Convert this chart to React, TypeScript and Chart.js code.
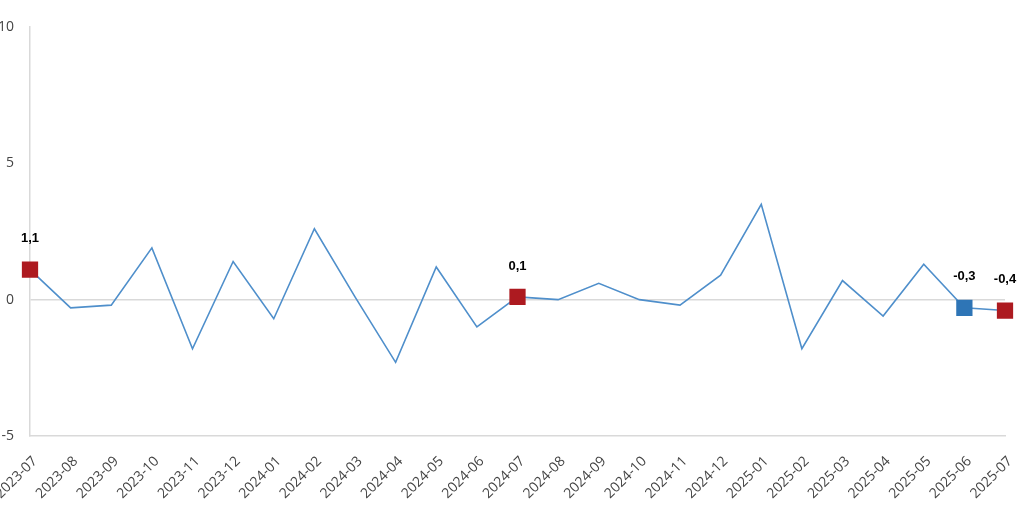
import React, { useEffect, useRef } from "react";
import { Chart, registerables } from "chart.js";

Chart.register(...registerables);

const categories: string[] = [
  "2023-07", "2023-08", "2023-09", "2023-10", "2023-11", "2023-12",
  "2024-01", "2024-02", "2024-03", "2024-04", "2024-05", "2024-06",
  "2024-07", "2024-08", "2024-09", "2024-10", "2024-11", "2024-12",
  "2025-01", "2025-02", "2025-03", "2025-04", "2025-05", "2025-06", "2025-07",
];

const values: number[] = [
  1.1, -0.3, -0.2, 1.9, -1.8, 1.4,
  -0.7, 2.6, 0.1, -2.3, 1.2, -1.0,
  0.1, 0.0, 0.6, 0.0, -0.2, 0.9,
  3.5, -1.8, 0.7, -0.6, 1.3, -0.3, -0.4,
];

// highlighted points and their marker colours
const highlightIndex: number[] = [0, 12, 23, 24];
const highlightColor: string[] = ["#ad1a20", "#ad1a20", "#2e75b6", "#ad1a20"];

const yTicks: number[] = [-5, 0, 5, 10];

const LINE_COLOR = "#4f8fcb";
const TEXT_COLOR = "#444444";
const AXIS_FONT = "'Open Sans', 'Noto Sans', sans-serif";

const fmt = (v: number) => v.toFixed(1).replace(".", ",");

export default function App() {
  const ref = useRef<HTMLCanvasElement | null>(null);

  useEffect(() => {
    if (!ref.current) return;
    const pointRadius = values.map((_, i) => (highlightIndex.includes(i) ? 11.5 : 0));
    const pointColor = values.map((_, i) => {
      const k = highlightIndex.indexOf(i);
      return k >= 0 ? highlightColor[k] : LINE_COLOR;
    });

    const labelPlugin = {
      id: "hlLabels",
      afterDatasetsDraw(chart: any) {
        const ctx = chart.ctx;
        const meta = chart.getDatasetMeta(0);
        ctx.save();
        ctx.font = "bold 13px 'Liberation Sans', Arial, sans-serif";
        ctx.fillStyle = "#000000";
        ctx.textAlign = "center";
        ctx.textBaseline = "middle";
        highlightIndex.forEach((i) => {
          const el = meta.data[i];
          ctx.fillText(fmt(values[i]), el.x, el.y - 31);
        });
        ctx.restore();
      },
    };

    // rotated category labels, positioned from the x scale
    const xLabelPlugin = {
      id: "xLabels",
      afterDraw(chart: any) {
        const ctx = chart.ctx;
        const xs = chart.scales.x;
        const baseY = xs.top;
        ctx.save();
        ctx.font = `14px ${AXIS_FONT}`;
        ctx.fillStyle = TEXT_COLOR;
        ctx.textAlign = "right";
        ctx.textBaseline = "middle";
        categories.forEach((c, i) => {
          const x = xs.getPixelForTick(i);
          ctx.save();
          ctx.translate(x + 5, baseY + 23);
          ctx.rotate(-Math.PI / 4);
          ctx.fillText(c, 0, 0);
          ctx.restore();
        });
        ctx.restore();
      },
    };

    const chart = new Chart(ref.current, {
      type: "line",
      data: {
        labels: categories,
        datasets: [
          {
            data: values,
            borderColor: LINE_COLOR,
            borderWidth: 1.6,
            tension: 0,
            pointStyle: "rect",
            pointRadius,
            pointHoverRadius: pointRadius,
            pointBackgroundColor: pointColor,
            pointBorderColor: pointColor,
            pointBorderWidth: 0,
          },
        ],
      },
      options: {
        animation: false,
        responsive: false,
        maintainAspectRatio: false,
        layout: { padding: { top: 27, right: 19, left: 0, bottom: 0 } },
        plugins: {
          legend: { display: false },
          tooltip: { enabled: false },
        },
        scales: {
          x: {
            type: "category",
            offset: false,
            grid: { display: false, drawTicks: false },
            border: { display: true, color: "#d9d9d9", width: 1.5 },
            ticks: { display: false, autoSkip: false },
            afterFit: (s: any) => {
              s.height = 78;
              s.paddingLeft = 0;
              s.paddingRight = 0;
            },
          },
          y: {
            min: -5,
            max: 10,
            afterBuildTicks: (s: any) => {
              s.ticks = yTicks.map((v) => ({ value: v }));
            },
            grid: {
              drawTicks: false,
              color: (c: any) => (c.tick && c.tick.value === 0 ? "#d9d9d9" : "rgba(0,0,0,0)"),
              lineWidth: 1.5,
            },
            border: { display: true, color: "#d9d9d9", width: 1.5 },
            ticks: {
              padding: 16,
              color: TEXT_COLOR,
              font: { family: AXIS_FONT, size: 14 },
            },
            afterFit: (s: any) => {
              s.width = 30;
              s.paddingTop = 0;
              s.paddingBottom = 0;
            },
          },
        },
      },
      plugins: [labelPlugin, xLabelPlugin],
    });
    return () => chart.destroy();
  }, []);

  return (
    <div style={{ position: "fixed", left: 0, top: 0, width: 1024, height: 514, background: "#fff" }}>
      <canvas ref={ref} width={1024} height={514} style={{ width: 1024, height: 514, display: "block" }} />
    </div>
  );
}
